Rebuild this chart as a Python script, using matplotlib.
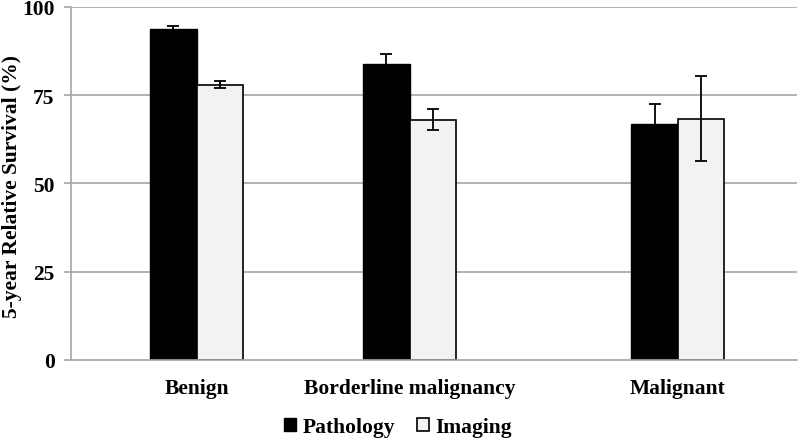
import matplotlib
matplotlib.use("Agg")
import matplotlib.pyplot as plt
import numpy as np

categories = ["Benign", "Borderline malignancy", "Malignant"]
pathology = [93.8, 83.9, 66.7]
pathology_err = [0.7, 2.8, 5.8]
imaging = [78.0, 68.0, 68.3]
imaging_err = [1.0, 3.0, 12.1]
y_ticks = [0, 25, 50, 75, 100]

# category centres as they sit in the original (not evenly spaced)
x = np.array([0.0, 1.0, 2.26])
width = 0.218
fs = 15.5

plt.rcParams['font.family'] = ['Liberation Serif', 'DejaVu Serif']
plt.rcParams['font.weight'] = 'bold'

fig = plt.figure(figsize=(8, 4.39), dpi=100)
ax = fig.add_axes([0.089, 0.178, 0.907, 0.804])

grey = '#a6a6a6'
for t in y_ticks[1:]:
    ax.axhline(t, color=grey, lw=1.2, zorder=0)

err_kw = dict(ecolor='black', elinewidth=1.3, capsize=4.5, capthick=1.3)
ax.bar(x - width / 2, pathology, width, yerr=pathology_err, color='black',
       edgecolor='black', linewidth=1, label='Pathology', error_kw=err_kw, zorder=2)
ax.bar(x + width / 2, imaging, width, yerr=imaging_err, color='#f2f2f2',
       edgecolor='black', linewidth=1.2, label='Imaging', error_kw=err_kw, zorder=2)

ax.set_xlim(-0.589, 2.819)
ax.set_ylim(0, 100)
ax.set_yticks(y_ticks)
ax.set_yticklabels([str(t) for t in y_ticks], fontsize=fs, fontweight='bold')
ax.set_xticks(x)
ax.set_xticklabels(categories, fontsize=fs, fontweight='bold')
ax.tick_params(axis='x', length=0, pad=13)
ax.tick_params(axis='y', length=5, color=grey, width=1.2, pad=7)
fig.text(12 / 800, 0.576, "5-year Relative Survival (%)", rotation=90,
         ha='center', va='center', fontsize=fs, fontweight='bold')

for s in ['top', 'right']:
    ax.spines[s].set_visible(False)
for s in ['left', 'bottom']:
    ax.spines[s].set_color(grey)
    ax.spines[s].set_linewidth(1.2)

fig.legend(loc='center', bbox_to_anchor=(0.4975, 0.024), ncol=2, frameon=False,
           borderpad=0, prop={'size': fs, 'weight': 'bold'}, handlelength=0.55,
           handleheight=0.55, handletextpad=0.3, columnspacing=1.0)

fig.savefig("out.png", dpi=100)
